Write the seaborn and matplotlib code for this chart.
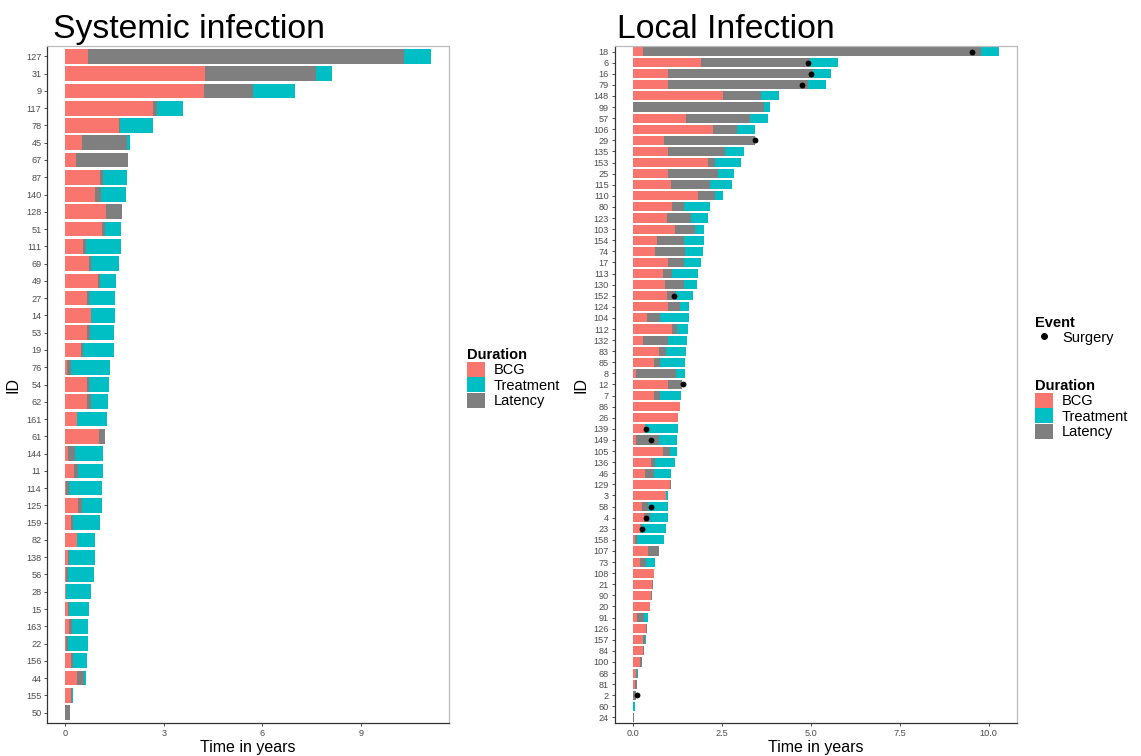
import numpy as np
import pandas as pd
import matplotlib
matplotlib.use("Agg")
import matplotlib.pyplot as plt
from matplotlib.patches import Patch
from matplotlib.lines import Line2D
import seaborn as sns

sns.set_theme(style="white")
plt.rcParams['font.family'] = ['Liberation Sans', 'DejaVu Sans']
plt.rcParams['text.color'] = 'black'
plt.rcParams['axes.labelcolor'] = 'black'

# ---------------- data: Systemic infection ----------------
sys_ids = ["127", "31", "9", "117", "78", "45", "67", "87", "140", "128", "51", "111", "69",
           "49", "27", "14", "53", "19", "76", "54", "62", "161", "61", "144", "11", "114",
           "125", "159", "82", "138", "56", "28", "15", "163", "22", "156", "44", "155", "50"]
sys_bcg = [0.69, 4.27, 4.24, 2.67, 1.63, 0.51, 0.33, 1.06, 0.92, 1.24, 1.11, 0.55, 0.73,
           1.01, 0.67, 0.79, 0.67, 0.48, 0.06, 0.67, 0.66, 0.37, 1.04, 0.08, 0.26, 0.01,
           0.39, 0.17, 0.37, 0.08, 0.01, 0.02, 0.08, 0.12, 0.02, 0.18, 0.36, 0.17, 0.00]
sys_lat = [9.64, 3.36, 1.48, 0.13, 0.03, 1.37, 1.59, 0.10, 0.18, 0.48, 0.10, 0.08, 0.06,
           0.05, 0.06, 0.00, 0.07, 0.06, 0.11, 0.06, 0.13, 0.00, 0.18, 0.22, 0.12, 0.09,
           0.13, 0.07, 0.00, 0.03, 0.06, 0.01, 0.04, 0.07, 0.05, 0.05, 0.21, 0.02, 0.14]
sys_trt = [0.80, 0.50, 1.28, 0.78, 1.01, 0.10, 0.00, 0.72, 0.76, 0.02, 0.50, 1.06, 0.84,
           0.48, 0.79, 0.73, 0.75, 0.93, 1.18, 0.60, 0.52, 0.89, 0.00, 0.86, 0.78, 1.01,
           0.59, 0.81, 0.55, 0.79, 0.82, 0.75, 0.59, 0.50, 0.62, 0.44, 0.06, 0.06, 0.00]

# ---------------- data: Local infection ----------------
loc_ids = ["18", "6", "16", "79", "148", "99", "57", "106", "29", "135", "153", "25", "115",
           "110", "80", "123", "103", "154", "74", "17", "113", "130", "152", "124", "104",
           "112", "132", "83", "85", "8", "12", "7", "86", "26", "139", "149", "105", "136",
           "46", "129", "3", "58", "4", "23", "158", "107", "73", "108", "21", "90", "20",
           "91", "126", "157", "84", "100", "68", "81", "2", "60", "24"]
loc_bcg = [0.30, 1.92, 1.00, 1.00, 2.54, 0.00, 1.50, 2.25, 0.88, 1.00, 2.12, 1.00, 1.06,
           1.84, 1.11, 0.97, 1.19, 0.69, 0.63, 0.99, 0.86, 0.90, 0.97, 0.98, 0.40,
           1.09, 0.29, 0.75, 0.60, 0.10, 1.00, 0.60, 1.34, 1.27, 0.33, 0.08, 0.85, 0.52,
           0.34, 1.05, 0.92, 0.27, 0.32, 0.21, 0.07, 0.44, 0.21, 0.60, 0.54, 0.51, 0.49,
           0.12, 0.36, 0.30, 0.30, 0.21, 0.10, 0.07, 0.01, 0.00, 0.00]
loc_lat = [9.49, 3.06, 4.07, 3.93, 1.06, 3.68, 1.78, 0.69, 2.54, 1.60, 0.19, 1.40, 1.12,
           0.47, 0.33, 0.66, 0.55, 0.74, 0.85, 0.45, 0.23, 0.55, 0.24, 0.35, 0.36,
           0.15, 0.71, 0.18, 0.17, 1.11, 0.39, 0.17, 0.00, 0.00, 0.02, 0.66, 0.19, 0.11,
           0.25, 0.01, 0.00, 0.17, 0.15, 0.04, 0.05, 0.29, 0.16, 0.00, 0.02, 0.03, 0.00,
           0.20, 0.04, 0.03, 0.02, 0.06, 0.02, 0.06, 0.09, 0.01, 0.02]
loc_trt = [0.49, 0.78, 0.49, 0.50, 0.50, 0.18, 0.52, 0.50, 0.00, 0.52, 0.72, 0.45, 0.60,
           0.23, 0.72, 0.48, 0.26, 0.57, 0.50, 0.47, 0.75, 0.34, 0.49, 0.25, 0.82,
           0.30, 0.51, 0.57, 0.69, 0.25, 0.00, 0.58, 0.00, 0.00, 0.92, 0.50, 0.19, 0.55,
           0.49, 0.00, 0.07, 0.55, 0.51, 0.68, 0.76, 0.00, 0.26, 0.00, 0.00, 0.00, 0.00,
           0.11, 0.00, 0.04, 0.00, 0.00, 0.02, 0.00, 0.00, 0.05, 0.00]

surg_ids = ["18", "6", "16", "79", "29", "152", "12", "139", "149", "58", "4", "23", "2"]
surg_time = [9.54, 4.91, 5.00, 4.75, 3.42, 1.17, 1.40, 0.36, 0.52, 0.50, 0.36, 0.25, 0.12]

C_BCG = "#F8766D"
C_TRT = "#00BFC4"
C_LAT = "#7F7F7F"

W, H = 1141, 756
fig = plt.figure(figsize=(W / 100, H / 100), dpi=100)


def px_axes(x0, y0, x1, y1):
    return fig.add_axes([x0 / W, 1 - y1 / H, (x1 - x0) / W, (y1 - y0) / H])


def draw_panel(ax, ids, bcg, lat, trt, ticks, ticklabels, width):
    df = pd.DataFrame({"ID": ids, "BCG": bcg, "Latency": lat, "Treatment": trt})
    df["end_bcg"] = df["BCG"]
    df["end_lat"] = df["BCG"] + df["Latency"]
    df["end_trt"] = df["end_lat"] + df["Treatment"]
    for col, colr in [("end_trt", C_TRT), ("end_lat", C_LAT), ("end_bcg", C_BCG)]:
        sns.barplot(data=df, x=col, y="ID", order=ids, orient="h", color=colr,
                    saturation=1, width=width, linewidth=0, errorbar=None, ax=ax)
    n = len(ids)
    xmax = df["end_trt"].max()
    ax.set_xlim(-0.05 * xmax, 1.05 * xmax)
    ax.set_ylim(n - 1 + 0.6, -0.6)
    ax.set_xticks(ticks)
    ax.set_xticklabels(ticklabels)
    ax.tick_params(axis="both", which="both", length=2.5, width=0.6, color="#333333",
                   labelsize=6.6, labelcolor="#4D4D4D", pad=1.5, left=True, bottom=True)
    for s in ["left", "bottom"]:
        ax.spines[s].set_color("#333333")
        ax.spines[s].set_linewidth(0.9)
    for s in ["top", "right"]:
        ax.spines[s].set_color("#BBBBBB")
        ax.spines[s].set_linewidth(0.9)
    ax.set_facecolor("white")
    ax.grid(False)
    return df


ax1 = px_axes(47, 46, 449, 723)
draw_panel(ax1, sys_ids, sys_bcg, sys_lat, sys_trt, [0, 3, 6, 9], ["0", "3", "6", "9"], 0.85)
ax1.set_xlabel("Time in years", fontsize=11.5, color="black", labelpad=2)
ax1.set_ylabel("ID", fontsize=11.5, color="black", labelpad=4)

ax2 = px_axes(614.5, 46, 1017, 723)
draw_panel(ax2, loc_ids, loc_bcg, loc_lat, loc_trt, [0, 2.5, 5, 7.5, 10],
           ["0.0", "2.5", "5.0", "7.5", "10.0"], 0.82)
sdf = pd.DataFrame({"ID": surg_ids, "time": surg_time})
sns.stripplot(data=sdf, x="time", y="ID", order=loc_ids, orient="h", jitter=False,
              color="black", size=4.2, linewidth=0, ax=ax2)
ax2.set_xlabel("Time in years", fontsize=11.5, color="black", labelpad=2)
ax2.set_ylabel("ID", fontsize=11.5, color="black", labelpad=4)

fig.text(53 / W, 1 - 38 / H, "Systemic infection", fontsize=24.3, va="baseline",
         ha="left", color="black")
fig.text(617 / W, 1 - 38 / H, "Local Infection", fontsize=24.3, va="baseline",
         ha="left", color="black")

dur_handles = [Patch(facecolor=C_BCG, edgecolor="none", label="BCG"),
               Patch(facecolor=C_TRT, edgecolor="none", label="Treatment"),
               Patch(facecolor=C_LAT, edgecolor="none", label="Latency")]

leg_kw = dict(frameon=False, fontsize=10.5, handlelength=1.2, handleheight=1.2,
              labelspacing=0.0, handletextpad=0.65, borderpad=0, borderaxespad=0,
              alignment="left", labelcolor="black",
              title_fontproperties={"weight": "bold", "size": 10.5})

leg1 = fig.legend(handles=dur_handles, title="Duration", loc="upper left",
                  bbox_to_anchor=(467 / W, 1 - 348 / H), **leg_kw)

ev_handle = [Line2D([0], [0], marker="o", color="black", linestyle="none",
                    markersize=4, label="Surgery")]
leg2 = fig.legend(handles=ev_handle, title="Event", loc="upper left",
                  bbox_to_anchor=(1035 / W, 1 - 316 / H), **leg_kw)
leg3 = fig.legend(handles=dur_handles, title="Duration", loc="upper left",
                  bbox_to_anchor=(1035 / W, 1 - 379 / H), **leg_kw)

fig.savefig("out.png", dpi=100, facecolor="white")
